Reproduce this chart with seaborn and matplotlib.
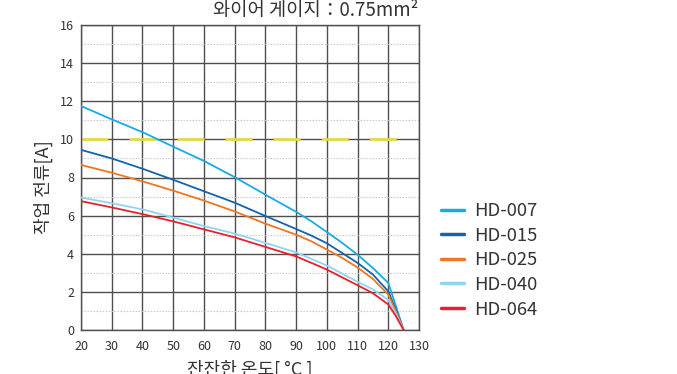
import matplotlib
matplotlib.use("Agg")
import matplotlib.pyplot as plt
import seaborn as sns
import pandas as pd

# Ambient temperature [°C] at which the current ratings are given
temps = [20, 30, 40, 50, 60, 70, 80, 90, 95, 100, 105, 110, 115, 120, 122.5, 125]

# Operating current [A] per model
hd_007 = [11.75, 11.05, 10.38, 9.62, 8.87, 8.02, 7.10, 6.20, 5.70, 5.14, 4.57, 3.95, 3.25, 2.47, 1.25, 0.0]
hd_015 = [9.45, 9.00, 8.46, 7.88, 7.28, 6.68, 5.98, 5.30, 4.95, 4.55, 4.04, 3.52, 2.91, 2.03, 1.05, 0.0]
hd_025 = [8.66, 8.25, 7.80, 7.31, 6.79, 6.22, 5.58, 5.00, 4.65, 4.22, 3.78, 3.28, 2.68, 1.86, 0.98, 0.0]
hd_040 = [6.95, 6.65, 6.33, 5.90, 5.45, 5.06, 4.57, 4.07, 3.73, 3.38, 2.96, 2.53, 2.13, 1.58, 0.85, 0.0]
hd_064 = [6.76, 6.43, 6.08, 5.70, 5.28, 4.86, 4.36, 3.86, 3.52, 3.17, 2.76, 2.35, 1.93, 1.34, 0.72, 0.0]

models = ["HD-007", "HD-015", "HD-025", "HD-040", "HD-064"]
colors = ["#1aa9e6", "#1463ad", "#f07524", "#92d3f2", "#e8212b"]

# Reference limit line
limit_x = [20, 125]
limit_y = [10, 10]

x_ticks = [20, 30, 40, 50, 60, 70, 80, 90, 100, 110, 120, 130]
y_ticks = [0, 2, 4, 6, 8, 10, 12, 14, 16]
y_minor = [1, 3, 5, 7, 9, 11, 13, 15]

title_text = "와이어 게이지：0.75mm²"
x_label = "잔잔한 온도[ °C ]"
y_label = "작업 전류[A]"

rows = []
for name, vals in zip(models, [hd_007, hd_015, hd_025, hd_040, hd_064]):
    for t, v in zip(temps, vals):
        rows.append({"temp": t, "current": v, "model": name})
df = pd.DataFrame(rows)

sns.set_theme(style="white")
plt.rcParams["font.family"] = ["Noto Sans CJK KR", "DejaVu Sans"]

fig = plt.figure(figsize=(6.77, 3.74), dpi=100)
ax = fig.add_axes([81 / 677, 1 - 330 / 374, 338 / 677, 305 / 374])

# grid: solid major lines, dotted minor lines at odd amps
ax.set_xlim(20, 130)
ax.set_ylim(0, 16)
ax.set_xticks(x_ticks)
ax.set_yticks(y_ticks)
ax.set_yticks(y_minor, minor=True)
ax.grid(which="major", color="#4f4f4f", linewidth=1.0, linestyle="-")
ax.grid(which="minor", axis="y", color="#c4c4c4", linewidth=0.8, linestyle=(0, (1.2, 1.5)))
ax.set_axisbelow(True)

ax.plot(limit_x, limit_y, color="#e2dc4a", linewidth=2.0, dashes=(9.7, 7.6), zorder=2)

sns.lineplot(data=df, x="temp", y="current", hue="model", hue_order=models,
             palette=colors, linewidth=1.3, ax=ax, legend=True, zorder=3)

for s in ax.spines.values():
    s.set_color("#4f4f4f")
    s.set_linewidth(1.0)

ax.tick_params(axis="both", which="major", direction="out", length=3, width=1,
               color="#4f4f4f", labelsize=9, labelcolor="#333333")
ax.tick_params(axis="x", which="major", pad=4)
ax.tick_params(axis="y", which="major", pad=2)
ax.tick_params(axis="y", which="minor", length=0)

ax.set_xlabel(x_label, fontsize=13, color="#333333", labelpad=5)
ax.set_ylabel(y_label, fontsize=13, color="#333333")
ax.yaxis.set_label_coords(-0.082, 0.47)

fig.text(418 / 677, 1 - 16 / 374, title_text, ha="right", va="baseline",
         fontsize=13.5, color="#333333")

handles, labels = ax.get_legend_handles_labels()
for h in handles:
    h.set_linewidth(2.5)
ax.legend(handles, labels, loc="upper left", bbox_to_anchor=(441 / 677, 1 - 202 / 374),
          bbox_transform=fig.transFigure, frameon=False, fontsize=13.3,
          handlelength=1.25, handletextpad=0.55, labelspacing=0.36,
          borderpad=0, borderaxespad=0, labelcolor="#333333")

fig.savefig("out.png", dpi=100)
